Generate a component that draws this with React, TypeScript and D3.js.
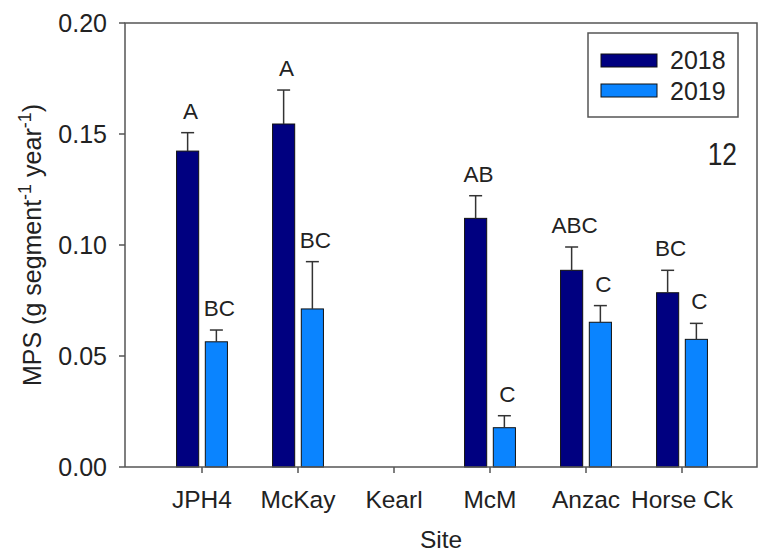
import { useEffect, useRef } from 'react';
import * as d3 from 'd3';

// Sites on the x axis
const sites = ['JPH4', 'McKay', 'Kearl', 'McM', 'Anzac', 'Horse Ck'];
const years = ['2018', '2019'];

// Mean MPS per site (null = no data)
const mps2018 = [0.1423, 0.1545, null, 0.1120, 0.0886, 0.0785];
const mps2019 = [0.0564, 0.0712, null, 0.0177, 0.0652, 0.0575];

// Upper error bar lengths
const err2018 = [0.0083, 0.0153, null, 0.0102, 0.0105, 0.0101];
const err2019 = [0.0053, 0.0213, null, 0.0054, 0.0075, 0.0072];

// Significance letters
const letters2018 = ['A', 'A', '', 'AB', 'ABC', 'BC'];
const letters2019 = ['BC', 'BC', '', 'C', 'C', 'C'];

const yTicks = [0, 0.05, 0.1, 0.15, 0.2];
const colors = ['#000080', '#0a84ff'];
const FONT = 'Liberation Sans, Arial, sans-serif';

export default function App() {
    const svgRef = useRef<SVGSVGElement>(null);

    useEffect(() => {
        if (!svgRef.current) return;
        const svg = d3.select(svgRef.current);
        svg.selectAll('*').remove();

        const left = 125, right = 757, top = 23, bottom = 467;

        const y = d3.scaleLinear().domain([0, 0.2]).range([bottom, top]);
        const x = d3.scaleBand<string>()
            .domain(sites)
            .range([154, 730])
            .paddingInner(0.47)
            .paddingOuter(0.235);
        const xSub = d3.scaleBand<string>()
            .domain(years)
            .range([0, x.bandwidth()])
            .paddingInner(0.23);

        const series = [
            { year: '2018', vals: mps2018, errs: err2018, letters: letters2018, color: colors[0] },
            { year: '2019', vals: mps2019, errs: err2019, letters: letters2019, color: colors[1] },
        ];

        // Bars, error bars, letters
        series.forEach(s => {
            sites.forEach((site, i) => {
                const v = s.vals[i];
                if (v == null) return;
                const bx = x(site)! + xSub(s.year)!;
                const bw = xSub.bandwidth();
                const cx = bx + bw / 2;
                svg.append('rect')
                    .attr('x', bx)
                    .attr('y', y(v))
                    .attr('width', bw)
                    .attr('height', y(0) - y(v))
                    .attr('fill', s.color)
                    .attr('stroke', '#111')
                    .attr('stroke-width', 1);
                const capY = y(v + (s.errs[i] ?? 0));
                svg.append('line')
                    .attr('x1', cx).attr('x2', cx)
                    .attr('y1', y(v)).attr('y2', capY)
                    .attr('stroke', '#333').attr('stroke-width', 1.5);
                svg.append('line')
                    .attr('x1', cx - 6.5).attr('x2', cx + 6.5)
                    .attr('y1', capY).attr('y2', capY)
                    .attr('stroke', '#333').attr('stroke-width', 1.5);
                svg.append('text')
                    .attr('x', cx + 3)
                    .attr('y', capY - 14)
                    .attr('text-anchor', 'middle')
                    .attr('font-family', FONT)
                    .attr('font-size', 22.5)
                    .attr('fill', '#222')
                    .text(s.letters[i]);
            });
        });

        // Frame
        svg.append('path')
            .attr('d', `M${left},${bottom}V${top}H${right}V${bottom}H${left}`)
            .attr('fill', 'none')
            .attr('stroke', '#555')
            .attr('stroke-width', 1.5);

        // Y axis ticks + labels
        yTicks.forEach(t => {
            svg.append('line')
                .attr('x1', left - 6).attr('x2', left)
                .attr('y1', y(t)).attr('y2', y(t))
                .attr('stroke', '#555').attr('stroke-width', 1.5);
            svg.append('text')
                .attr('x', left - 18)
                .attr('y', y(t))
                .attr('dy', '0.35em')
                .attr('text-anchor', 'end')
                .attr('font-family', FONT)
                .attr('font-size', 25)
                .attr('fill', '#222')
                .text(d3.format('.2f')(t));
        });

        // X axis ticks + labels
        sites.forEach(site => {
            const cx = x(site)! + x.bandwidth() / 2;
            svg.append('line')
                .attr('x1', cx).attr('x2', cx)
                .attr('y1', bottom).attr('y2', bottom + 6)
                .attr('stroke', '#555').attr('stroke-width', 1.5);
            svg.append('text')
                .attr('x', cx)
                .attr('y', 508)
                .attr('text-anchor', 'middle')
                .attr('font-family', FONT)
                .attr('font-size', 24.5)
                .attr('fill', '#222')
                .text(site);
        });

        // Axis titles
        svg.append('text')
            .attr('x', 441)
            .attr('y', 548)
            .attr('text-anchor', 'middle')
            .attr('font-family', FONT)
            .attr('font-size', 24.5)
            .attr('fill', '#222')
            .text('Site');

        const yTitle = svg.append('text')
            .attr('transform', 'translate(41,245) rotate(-90)')
            .attr('text-anchor', 'middle')
            .attr('font-family', FONT)
            .attr('font-size', 25)
            .attr('fill', '#222');
        yTitle.append('tspan').text('MPS (g segment');
        yTitle.append('tspan').attr('font-size', 18).attr('dy', -10).text('-1');
        yTitle.append('tspan').attr('dy', 10).text(' year');
        yTitle.append('tspan').attr('font-size', 18).attr('dy', -10).text('-1');
        yTitle.append('tspan').attr('dy', 10).text(')');

        // Legend
        svg.append('rect')
            .attr('x', 588).attr('y', 33)
            .attr('width', 150).attr('height', 84)
            .attr('fill', 'white')
            .attr('stroke', '#555').attr('stroke-width', 1.5);
        series.forEach((s, i) => {
            svg.append('rect')
                .attr('x', 601).attr('y', 54 + i * 30)
                .attr('width', 56).attr('height', 13)
                .attr('fill', s.color)
                .attr('stroke', '#111').attr('stroke-width', 1);
            svg.append('text')
                .attr('x', 670).attr('y', 69 + i * 31)
                .attr('font-family', FONT)
                .attr('font-size', 25)
                .attr('fill', '#222')
                .text(s.year);
        });

        // Panel number
        svg.append('text')
            .attr('transform', 'translate(737,165) scale(0.85,1)')
            .attr('text-anchor', 'end')
            .attr('font-family', FONT)
            .attr('font-size', 31)
            .attr('fill', '#222')
            .text('12');
    }, []);

    return (
        <svg
            ref={svgRef}
            width={759}
            height={554}
            style={{ position: 'absolute', left: 0, top: 0, background: 'white' }}
        />
    );
}
